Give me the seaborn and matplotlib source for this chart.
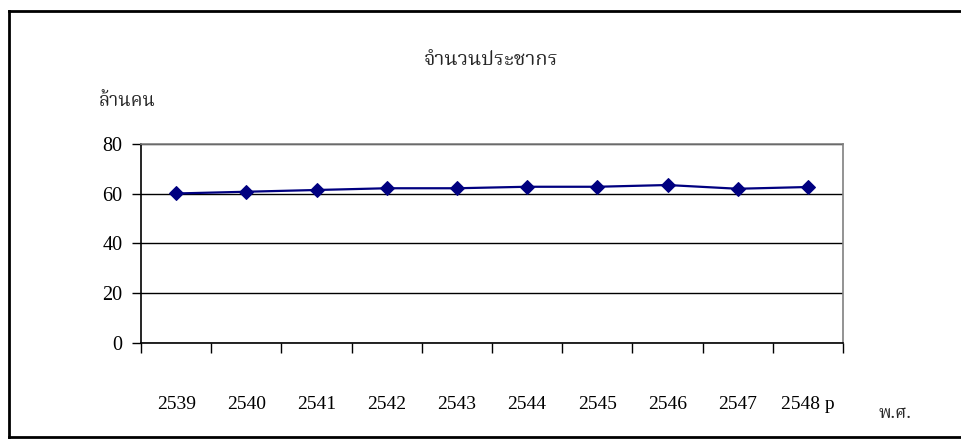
import matplotlib
matplotlib.use("Agg")
import matplotlib.pyplot as plt
from matplotlib import font_manager
from matplotlib.lines import Line2D
import seaborn as sns
import pandas as pd

# Population (millions), Buddhist-era years
years = ["2539", "2540", "2541", "2542", "2543", "2544", "2545", "2546", "2547", "2548 p"]
population = [60.1, 60.8, 61.5, 62.2, 62.2, 62.8, 62.8, 63.5, 62.0, 62.7]
title_text = "จำนวนประชากร"
ylabel_text = "ล้านคน"
xlabel_text = "พ.ศ."
yticks = [0, 20, 40, 60, 80]


def find_thai_font():
    """Return the name of an installed font that has Thai glyphs, if any."""
    try:
        from fontTools.ttLib import TTFont
    except Exception:
        return None
    found = []
    for path in font_manager.findSystemFonts():
        try:
            tt = TTFont(path, fontNumber=0, lazy=True)
            cmap = tt.getBestCmap() or {}
            if ord("จ") in cmap and ord("ำ") in cmap:
                name = font_manager.FontProperties(fname=path).get_name()
                found.append(name)
        except Exception:
            continue
    pref = ["Noto Serif Thai", "Noto Sans Thai", "Loma", "Garuda", "Norasi", "Kinnari"]
    for p in pref:
        if p in found:
            return p
    return found[0] if found else None


sns.set_theme(style="white")
thai = find_thai_font()
families = ["Liberation Serif"] + ([thai] if thai else []) + ["DejaVu Sans"]
thai_families = ([thai] if thai else []) + ["Liberation Serif", "DejaVu Sans"]
plt.rcParams["font.family"] = families

df = pd.DataFrame({"year": years, "population": population})

fig = plt.figure(figsize=(9.62, 4.47), dpi=100)
ax = fig.add_axes([0.1466, 0.2327, 0.7297, 0.4452])

sns.lineplot(data=df, x="year", y="population", ax=ax, color="#000080",
             linewidth=1.6, marker="D", markersize=7, markeredgecolor="#000080",
             sort=False)

ax.set_xlim(-0.5, len(years) - 0.5)
ax.set_ylim(0, 80)
ax.set_yticks(yticks)
ax.set_yticklabels([str(v) for v in yticks])
ax.set_xticks(range(len(years)))
ax.set_xticklabels(years)
ax.set_xticks([i - 0.5 for i in range(len(years) + 1)], minor=True)

ax.tick_params(axis="x", which="major", length=0, pad=38, labelsize=14, colors="black")
ax.tick_params(axis="x", which="minor", length=7, width=1, color="black", direction="out",
               bottom=True)
ax.tick_params(axis="y", which="major", length=6.5, width=1, color="black", direction="out",
               pad=7, labelsize=14.5, left=True)
for lab in ax.get_xticklabels() + ax.get_yticklabels():
    lab.set_color("black")

ax.grid(axis="y", color="black", linewidth=1)
ax.grid(axis="x", visible=False)
ax.set_axisbelow(True)
ax.set_xlabel("")
ax.set_ylabel("")

for side in ["left", "bottom"]:
    ax.spines[side].set_color("black")
    ax.spines[side].set_linewidth(1.2)
for side in ["top", "right"]:
    ax.spines[side].set_color("#808080")
    ax.spines[side].set_linewidth(1.2)

fig.text(491 / 962, 1 - 60 / 447, title_text, ha="center", va="center",
         fontsize=14.5, family=thai_families)
fig.text(99 / 962, 1 - 101 / 447, ylabel_text, ha="left", va="center",
         fontsize=13.5, family=thai_families)
fig.text(895 / 962, 1 - 413 / 447, xlabel_text, ha="center", va="center",
         fontsize=12.5, family=thai_families)

# outer chart frame: top, left and bottom edges (the right edge lies off the canvas)
x0, y_top, y_bot = 8.5 / 962, 1 - 11 / 447, 1 - 437 / 447
for xs, ys in [([x0, 1.02], [y_top, y_top]),
               ([x0, x0], [y_bot, y_top]),
               ([x0, 1.02], [y_bot, y_bot])]:
    fig.lines.append(Line2D(xs, ys, transform=fig.transFigure, color="black",
                            linewidth=2, solid_capstyle="projecting"))

fig.savefig("out.png", dpi=100)
